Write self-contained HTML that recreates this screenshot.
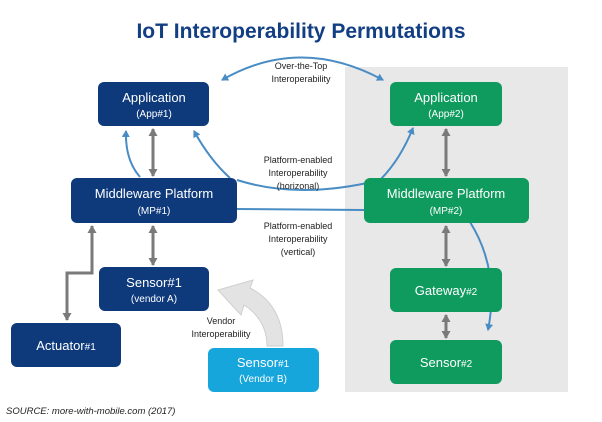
<!DOCTYPE html>
<html><head><meta charset="utf-8"><style>
body{margin:0;background:#fff;width:602px;height:422px;overflow:hidden}
svg{display:block;font-family:"Liberation Sans",sans-serif}
</style></head><body>
<svg width="602" height="422" viewBox="0 0 602 422">
<defs>
<marker id="ab" markerWidth="8" markerHeight="8" refX="6" refY="4" orient="auto-start-reverse" markerUnits="userSpaceOnUse"><path d="M0,0 L7,4 L0,8 z" fill="#4a8cc4"/></marker>
<marker id="ag" markerWidth="9" markerHeight="9" refX="7" refY="4.5" orient="auto-start-reverse" markerUnits="userSpaceOnUse"><path d="M0,0 L8,4.5 L0,9 z" fill="#7a7a7a"/></marker>
</defs>
<rect x="345" y="67" width="223" height="325" fill="#e8e8e8"/>
<text x="301" y="38" text-anchor="middle" font-size="21" font-weight="bold" fill="#123e84">IoT Interoperability Permutations</text>

<g fill="none" stroke="#4a8cc4" stroke-width="2">
<path d="M222,80 Q300,35 383,80" marker-start="url(#ab)" marker-end="url(#ab)"/>
<path d="M140,177 Q125,160 126,131" marker-end="url(#ab)"/>
<path d="M230,178 Q210,160 194,131" marker-end="url(#ab)"/>
<path d="M237,180 Q300,200 380,180 Q400,160 413,128" marker-end="url(#ab)"/>
<path d="M237,209 L364,210"/>
<path d="M470,222 Q500,270 488,330" marker-end="url(#ab)"/>
</g>
<g fill="none" stroke="#7a7a7a" stroke-width="3">
<path d="M153,129 L153,176" marker-start="url(#ag)" marker-end="url(#ag)"/>
<path d="M153,226 L153,265" marker-start="url(#ag)" marker-end="url(#ag)"/>
<path d="M92,226 L92,273 L67,273 L67,320" marker-start="url(#ag)" marker-end="url(#ag)"/>
<path d="M446,129 L446,176" marker-start="url(#ag)" marker-end="url(#ag)"/>
<path d="M446,226 L446,266" marker-start="url(#ag)" marker-end="url(#ag)"/>
<path d="M446,315 L446,338" marker-start="url(#ag)" marker-end="url(#ag)"/>
</g>
<path d="M267,346 L283,346 Q283,305 250,288 L253,280 L218,290 L241,315 L244,305 Q267,320 267,346 z" fill="#e3e3e3" stroke="#cfcfcf"/>

<g font-size="13" fill="#fff" text-anchor="middle">
<rect x="98" y="82" width="111" height="44" rx="6" fill="#0e3a7c"/>
<text x="154" y="102">Application</text><text x="154" y="117" font-size="10">(App#1)</text>
<rect x="71" y="178" width="166" height="45" rx="6" fill="#0e3a7c"/>
<text x="154" y="198">Middleware Platform</text><text x="154" y="214" font-size="10">(MP#1)</text>
<rect x="99" y="267" width="110" height="44" rx="6" fill="#0e3a7c"/>
<text x="154" y="287">Sensor#1</text><text x="154" y="302" font-size="10">(vendor A)</text>
<rect x="11" y="323" width="110" height="44" rx="6" fill="#0e3a7c"/>
<text x="66" y="350">Actuator<tspan font-size="10">#1</tspan></text>
<rect x="208" y="348" width="111" height="44" rx="6" fill="#17a6dc"/>
<text x="263" y="367">Sensor<tspan font-size="10">#1</tspan></text><text x="263" y="382" font-size="10">(Vendor B)</text>
<rect x="390" y="82" width="112" height="44" rx="6" fill="#0f9a5e"/>
<text x="446" y="102">Application</text><text x="446" y="117" font-size="10">(App#2)</text>
<rect x="364" y="178" width="165" height="45" rx="6" fill="#0f9a5e"/>
<text x="446" y="198">Middleware Platform</text><text x="446" y="214" font-size="10">(MP#2)</text>
<rect x="390" y="268" width="112" height="44" rx="6" fill="#0f9a5e"/>
<text x="446" y="295">Gateway<tspan font-size="10">#2</tspan></text>
<rect x="390" y="340" width="112" height="44" rx="6" fill="#0f9a5e"/>
<text x="446" y="367">Sensor<tspan font-size="10">#2</tspan></text>
</g>

<g font-size="9" fill="#222" text-anchor="middle">
<text x="301" y="69">Over-the-Top</text><text x="301" y="82">Interoperability</text>
<text x="298" y="163">Platform-enabled</text><text x="298" y="176">Interoperability</text><text x="298" y="189">(horizonal)</text>
<text x="298" y="229">Platform-enabled</text><text x="298" y="242">Interoperability</text><text x="298" y="255">(vertical)</text>
<text x="221" y="324">Vendor</text><text x="221" y="337">Interoperability</text>
</g>
<text x="6" y="414" font-size="9.5" font-style="italic" fill="#222">SOURCE: more-with-mobile.com (2017)</text>
</svg>
</body></html>
